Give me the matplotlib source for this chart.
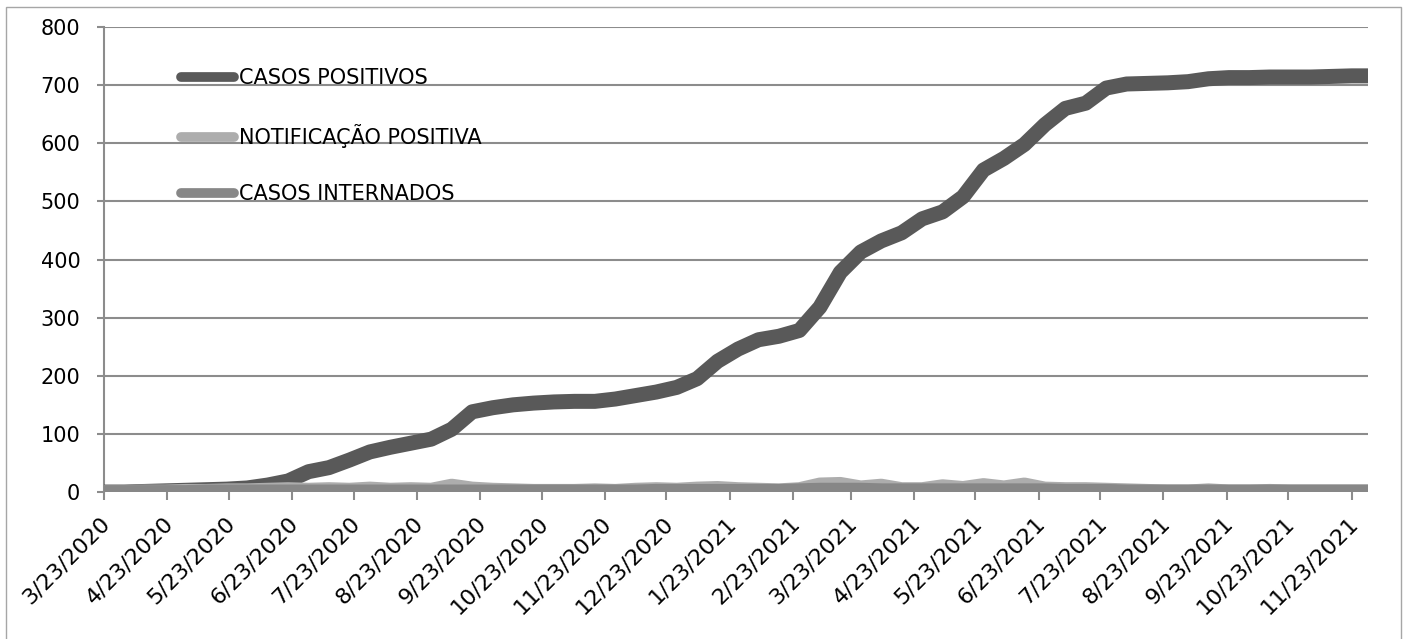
import datetime as dt
import matplotlib
matplotlib.use("Agg")
import matplotlib.pyplot as plt
import matplotlib.dates as mdates
from matplotlib.patches import Rectangle
from matplotlib.transforms import ScaledTranslation

plt.rcParams['font.family'] = ['DejaVu Sans']

start = dt.date(2020, 3, 23)
# days since 3/23/2020
days = [0, 10, 20, 30, 40, 50, 60, 70, 80, 90,
        100, 110, 120, 130, 140, 150, 160, 170, 180, 190,
        200, 210, 220, 230, 240, 250, 260, 270, 280, 290,
        300, 310, 320, 330, 340, 350, 360, 370, 380, 390,
        400, 410, 420, 430, 440, 450, 460, 470, 480, 490,
        500, 510, 520, 530, 540, 550, 560, 570, 580, 590,
        600, 610, 618]

casos_positivos = [0, 0, 1, 2, 3, 4, 5, 7, 12, 19,
                   35, 42, 55, 69, 77, 84, 91, 108, 138, 145,
                   150, 153, 155, 156, 156, 160, 166, 172, 180, 195,
                   225, 246, 262, 268, 278, 318, 378, 413, 432, 446,
                   470, 482, 508, 554, 574, 598, 632, 660, 669, 695,
                   702, 703, 704, 706, 711, 713, 713, 714, 714, 714,
                   715, 716, 716]

notificacao_positiva = [0, 0, 1, 1, 2, 2, 3, 3, 4, 5,
                        4, 5, 4, 6, 4, 5, 4, 11, 6, 4,
                        3, 2, 2, 2, 3, 2, 4, 5, 4, 6,
                        7, 5, 4, 3, 5, 13, 14, 8, 11, 5,
                        5, 10, 7, 12, 8, 13, 6, 5, 5, 4,
                        3, 2, 1, 1, 3, 1, 1, 2, 1, 1,
                        1, 1, 1]

casos_internados = [0, 0, 0, 0, 0, 1, 1, 1, 1, 1,
                    1, 1, 1, 1, 1, 1, 1, 1, 1, 1,
                    1, 1, 1, 1, 1, 1, 1, 2, 2, 2,
                    2, 2, 2, 2, 3, 4, 4, 4, 3, 3,
                    3, 3, 3, 3, 3, 3, 3, 2, 2, 2,
                    1, 1, 1, 1, 1, 1, 1, 1, 1, 1,
                    1, 1, 1]

dates = [start + dt.timedelta(days=d) for d in days]
tick_dates = [dt.date(2020 + (2 + i) // 12, (2 + i) % 12 + 1, 23) for i in range(21)]

fig = plt.figure(figsize=(14.07, 6.39), dpi=100)
ax = fig.add_axes([0.0739, 0.230, 0.8984, 0.7277])

ax.plot(dates, casos_positivos, color='#595959', lw=10.8, solid_capstyle='round',
        solid_joinstyle='round', label='CASOS POSITIVOS', zorder=3)
ax.plot(dates, notificacao_positiva, color='#adadad', lw=10, solid_capstyle='round',
        solid_joinstyle='round', label='NOTIFICAÇÃO POSITIVA', zorder=4)
ax.plot(dates, casos_internados, color='#878787', lw=10, solid_capstyle='round',
        solid_joinstyle='round', label='CASOS INTERNADOS', zorder=5)

ax.set_ylim(0, 800)
ax.set_yticks(range(0, 801, 100))
ax.set_xlim(start, start + dt.timedelta(days=618))
ax.set_xticks(tick_dates)
ax.xaxis.set_major_formatter(
    matplotlib.ticker.FuncFormatter(lambda v, p: "{d.month}/{d.day}/{d.year}".format(d=mdates.num2date(v))))

ax.grid(axis='y', color='#8c8c8c', lw=1.5)
ax.set_axisbelow(True)
for s in ['top', 'right', 'bottom']:
    ax.spines[s].set_visible(False)
ax.spines['left'].set_color('#8c8c8c')
ax.spines['left'].set_linewidth(1.5)
ax.tick_params(axis='y', length=5, width=1.5, color='#8c8c8c', pad=12, labelsize=15)
ax.tick_params(axis='x', length=6, width=1.5, color='#8c8c8c', pad=9, labelsize=16)
shift = ScaledTranslation(-4 / 100, 0, fig.dpi_scale_trans)
for lab in ax.get_xticklabels():
    lab.set_rotation(45)
    lab.set_ha('right')
    lab.set_va('top')
    lab.set_rotation_mode('anchor')
    lab.set_transform(lab.get_transform() + shift)

leg = ax.legend(loc='upper left', bbox_to_anchor=(0.0547, 0.93), frameon=False, fontsize=15,
                handlelength=2.5, handletextpad=0.25, labelspacing=1.73, borderaxespad=0)
for ln in leg.get_lines():
    ln.set_linewidth(7)

fig.patches.append(Rectangle((6 / 1407, -0.1), 1395 / 1407, 1.1 - 7 / 639,
                             transform=fig.transFigure, fill=False, ec='#a6a6a6', lw=1))

fig.savefig('out.png', dpi=100)
